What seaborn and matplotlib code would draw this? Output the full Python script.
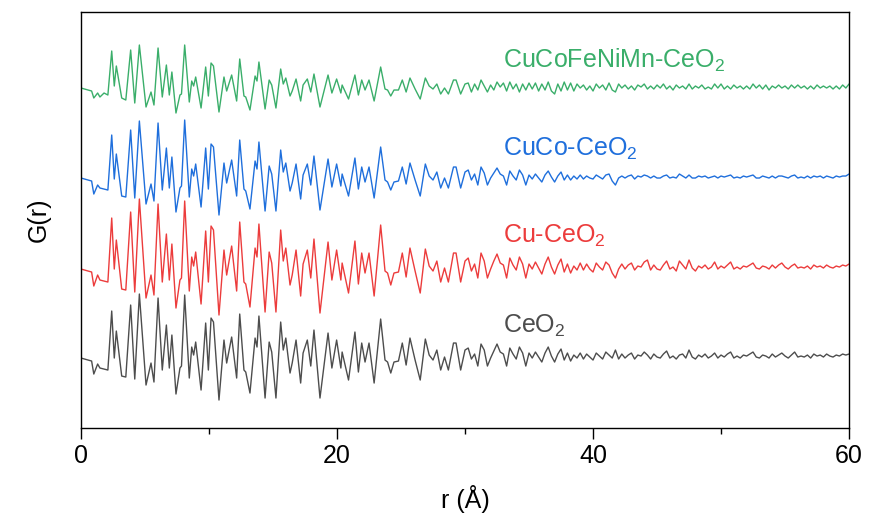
import numpy as np
import pandas as pd
import matplotlib
matplotlib.use("Agg")
import matplotlib.pyplot as plt
import seaborn as sns

# --- data (G in arbitrary units, before stacking offsets) ---
samples = ["CeO2", "Cu-CeO2", "CuCo-CeO2", "CuCoFeNiMn-CeO2"]
labels = ["CeO$_2$", "Cu-CeO$_2$", "CuCo-CeO$_2$", "CuCoFeNiMn-CeO$_2$"]
colors = ["#4d4d4d", "#ec3c3c", "#1f6fdc", "#3aae6a"]
offsets = [0.0, 8.9, 17.9, 26.9]

# peak / valley positions below 30 A (shared by all samples)
r_main = [0.0, 0.83, 1.0, 1.3, 1.48, 1.8, 2.1, 2.4, 2.6, 2.76,
          3.18, 3.5, 3.88, 4.2, 4.56, 5.08, 5.47, 5.7, 6.02, 6.35,
          6.67, 6.9, 7.1, 7.42, 7.73, 7.85, 8.1, 8.46, 8.65, 8.8,
          8.96, 9.38, 9.74, 9.95, 10.16, 10.35, 10.78, 11.17, 11.38, 11.77,
          12.16, 12.4, 12.73, 12.87, 13.2, 13.6, 13.75, 13.9, 14.38, 14.7,
          14.9, 15.23, 15.6, 15.8, 16.0, 16.33, 16.5, 16.8, 17.16, 17.35,
          17.68, 17.95, 18.2, 18.67, 19.3, 19.6, 19.97, 20.3, 20.4, 20.9,
          21.4, 21.67, 21.93, 22.19, 22.5, 22.9, 23.41, 23.75, 23.95, 24.2,
          24.45, 24.8, 25.1, 25.4, 25.7, 26.1, 26.5, 26.9, 27.2, 27.5,
          27.8, 28.1, 28.4, 28.7, 29.1, 29.3, 29.66, 30.0]

g_ceo2 = [-0.2, -0.5, -1.8, -0.8, -1.2, -1.3, -1.4, 4.5, -0.2, 2.5,
          -2.0, -2.1, 5.1, -2.3, 6.2, -2.9, -0.7, -2.6, 5.8, -1.4,
          3.1, -1.2, 2.1, -3.8, -1.2, -1.0, 6.1, -2.2, 0.9, 0.1,
          1.4, -3.4, 3.3, -1.4, 3.8, 3.4, -4.4, 1.6, -0.7, 1.9,
          -2.2, 4.2, -1.4, -1.6, -3.7, 1.8, 0.9, 4.0, -4.2, 1.4,
          0.4, -4.2, 3.4, 0.6, 1.8, -1.7, -0.7, 1.6, -2.7, 0.3,
          1.6, -1.0, 2.6, -4.2, 2.3, -1.2, 1.6, -1.2, 0.4, -2.4,
          2.4, -1.6, 1.3, -0.6, 1.3, -2.7, 3.7, -0.4, -0.6, -1.7,
          -0.6, -0.5, 1.3, -0.9, 1.8, -0.4, -2.4, 1.7, 0.1, -0.4,
          0.6, -1.4, -0.1, -1.4, 1.3, 1.3, -1.4, 0.6]

g_cu = [-0.2, -0.5, -1.9, -0.8, -1.3, -1.4, -1.5, 4.9, -0.2, 2.7,
        -2.2, -2.3, 5.5, -2.5, 6.8, -3.1, -0.8, -2.8, 6.3, -1.5,
        3.3, -1.3, 2.3, -4.1, -1.3, -1.1, 6.6, -2.4, 1.0, 0.1,
        1.5, -3.7, 3.6, -1.5, 4.1, 3.7, -4.8, 1.7, -0.8, 2.1,
        -2.4, 4.5, -1.5, -1.7, -4.0, 1.9, 1.0, 4.3, -4.5, 1.5,
        0.4, -4.5, 3.7, 0.6, 1.9, -1.8, -0.8, 1.7, -2.9, 0.3,
        1.7, -1.1, 2.8, -4.6, 2.5, -1.3, 1.7, -1.3, 0.4, -2.6,
        2.6, -1.7, 1.4, -0.6, 1.4, -2.9, 4.2, -0.4, -0.6, -1.8,
        -0.6, -0.5, 1.4, -1.0, 1.9, -0.4, -2.6, 1.8, 0.1, -0.4,
        0.6, -1.5, -0.1, -1.5, 1.4, 1.4, -1.5, 0.6]

g_cuco = [-0.1, -0.4, -1.7, -0.8, -1.1, -1.2, -1.3, 4.2, -0.2, 2.3,
          -1.9, -2.0, 4.7, -2.1, 5.6, -2.7, -0.7, -2.4, 5.4, -1.3,
          2.9, -1.1, 2.0, -3.5, -1.1, -0.9, 5.7, -2.0, 0.8, 0.1,
          1.3, -3.0, 2.9, -1.2, 3.3, 3.0, -3.8, 1.4, -0.6, 1.7,
          -1.9, 3.7, -1.2, -1.4, -3.2, 1.6, 0.8, 3.5, -3.4, 1.1,
          0.3, -3.4, 2.7, 0.5, 1.4, -1.4, -0.6, 1.3, -2.2, 0.2,
          1.3, -0.8, 2.1, -3.3, 1.8, -1.0, 1.3, -0.9, 0.3, -1.9,
          1.9, -1.2, 1.0, -0.5, 1.0, -2.1, 3.0, -0.3, -0.5, -1.3,
          -0.5, -0.4, 1.0, -0.7, 1.4, -0.3, -1.9, 1.3, 0.1, -0.3,
          0.5, -1.1, -0.1, -1.1, 1.0, 1.0, -1.1, 0.5]

g_hea = [-0.1, -0.4, -1.1, -0.6, -1.0, -0.6, -0.8, 3.6, 0.1, 2.1,
         -1.1, -1.3, 3.7, -1.6, 4.2, -2.0, -0.5, -1.8, 3.9, -1.0,
         2.2, -0.8, 1.5, -2.6, -0.8, -0.7, 4.2, -1.5, 0.6, 0.1,
         1.0, -2.1, 2.0, -0.9, 2.4, 2.1, -2.5, 1.0, -0.4, 1.2,
         -1.4, 2.8, -0.9, -1.0, -2.3, 1.1, 0.6, 2.5, -2.2, 0.7,
         0.2, -2.1, 1.8, 0.3, 0.9, -0.9, -0.4, 0.8, -1.4, 0.2,
         0.8, -0.5, 1.3, -2.0, 1.2, -0.6, 0.8, -0.6, 0.2, -1.2,
         1.2, -0.8, 0.7, -0.3, 0.7, -1.4, 2.0, -0.2, -0.3, -0.9,
         -0.3, -0.3, 0.7, -0.5, 0.9, -0.2, -1.2, 0.9, 0.1, -0.2,
         0.3, -0.7, -0.1, -0.7, 0.7, 0.7, -0.7, 0.3]

# tail 30.25 - 60 A, sampled every 0.25 A
r_tail = np.arange(30.25, 60.01, 0.25)

t_ceo2 = [0.8, -0.3, 0.2, -1.0, 1.2, 0.6, -1.0, -0.2, 0.5, 1.2, 0.4, 0.2,
          -1.0, 0.8, 0.2, -0.3, 0.9, 0.3, -1.0, 0.3, -0.2, 0.4, -0.1, -0.6,
          0.3, 0.9, 0.0, -0.6, 0.2, 0.7, -0.4, 0.3, -0.5, 0.1, -0.2, 0.3,
          -0.3, 0.2, -0.1, -0.4, 0.3, 0.0, -0.3, 0.4, 0.1, -0.2, 0.6, -0.3,
          0.2, -0.2, 0.1, 0.3, -0.3, 0.1, 0.0, 0.4, 0.1, -0.3, 0.2, -0.1,
          -0.2, 0.2, 0.5, -0.2, 0.0, -0.3, 0.1, 0.2, -0.2, 0.6, -0.1, -0.3,
          0.1, -0.1, 0.2, -0.2, 0.0, 0.3, -0.2, 0.1, -0.1, 0.2, 0.4, -0.2,
          0.0, -0.2, 0.1, 0.0, 0.2, 0.4, -0.1, -0.2, 0.1, 0.0, -0.2, 0.2,
          -0.1, 0.1, 0.3, 0.0, -0.2, 0.1, 0.4, -0.1, 0.0, -0.1, 0.1, -0.2,
          0.2, 0.0, 0.1, -0.1, 0.2, 0.0, -0.1, 0.1, 0.0, 0.2, 0.1, 0.2]

t_cu = [0.9, -0.4, 0.3, -1.1, 1.4, 0.6, -1.1, -0.2, 0.6, 1.3, 0.4, 0.2,
        -1.1, 0.9, 0.2, -0.3, 1.0, 0.3, -1.1, 0.3, -0.2, 0.5, -0.1, -0.7,
        0.3, 1.0, 0.0, -0.7, 0.2, 0.8, -0.5, 0.3, -0.6, 0.1, -0.3, 0.4,
        -0.3, 0.3, -0.2, -0.5, 0.4, 0.0, -0.3, 0.5, 0.2, -0.6, -1.1, -0.2,
        0.3, -0.2, 0.2, 0.4, -0.3, 0.1, 0.0, 0.5, 0.7, -0.3, 0.2, -0.2,
        -0.3, 0.2, 0.6, -0.2, 0.0, -0.4, 0.6, 0.2, -0.2, 0.7, -0.1, -0.4,
        0.1, -0.1, 0.2, -0.2, 0.0, 0.5, -0.2, 0.1, -0.1, 0.2, 0.5, -0.2,
        0.0, -0.2, 0.1, 0.0, 0.2, 0.4, -0.1, -0.2, 0.1, 0.0, -0.2, 0.2,
        -0.1, 0.2, 0.4, 0.0, -0.2, 0.1, 0.3, -0.1, 0.0, -0.1, 0.1, -0.2,
        0.2, 0.0, 0.1, -0.1, 0.2, 0.0, -0.1, 0.1, 0.0, 0.2, 0.1, 0.3]

t_cuco = [0.7, -0.3, 0.3, -0.8, 1.0, 0.4, -0.8, -0.1, 0.4, 0.9, 0.3, 0.1,
          -0.8, 0.6, 0.1, -0.3, 0.7, 0.2, -0.8, 0.2, -0.2, 0.3, -0.1, -0.5,
          0.2, 0.6, 0.0, -0.5, 0.1, 0.5, -0.3, 0.2, -0.3, 0.1, -0.2, 0.2,
          -0.2, 0.1, -0.1, -0.2, 0.2, 0.0, -0.2, 0.2, 0.3, -0.4, -0.8, -0.1,
          0.1, -0.1, 0.1, 0.2, -0.2, 0.1, 0.0, 0.2, 0.1, -0.1, 0.1, -0.1,
          -0.1, 0.1, 0.2, -0.1, 0.0, -0.1, 0.3, 0.1, -0.1, 0.2, -0.1, -0.1,
          0.1, 0.0, 0.1, -0.1, 0.0, 0.1, -0.1, 0.1, 0.0, 0.1, 0.2, -0.1,
          0.0, -0.1, 0.1, 0.0, 0.1, 0.2, -0.1, -0.1, 0.1, 0.0, -0.1, 0.1,
          -0.1, 0.1, 0.1, 0.0, -0.1, 0.1, 0.2, -0.1, 0.0, -0.1, 0.1, -0.1,
          0.1, 0.0, 0.1, -0.1, 0.1, 0.0, -0.1, 0.1, 0.0, 0.1, 0.1, 0.3]

t_hea = [0.4, -0.5, 0.3, -0.3, 0.7, 0.1, -0.5, 0.2, -0.3, 0.5, 0.0, 0.4,
         -0.4, 0.5, -0.2, 0.3, -0.5, 0.3, -0.3, 0.4, -0.2, 0.4, -0.4, 0.3,
         -0.3, 0.5, -0.4, -0.7, 0.3, -0.4, 0.5, -0.3, 0.4, -0.4, 0.3, -0.1,
         0.2, -0.3, 0.1, -0.4, 0.3, -0.1, 0.2, -0.3, 0.4, -0.3, -0.5, 0.3,
         -0.1, 0.2, -0.2, 0.1, -0.3, 0.2, 0.0, 0.3, -0.2, 0.1, -0.2, 0.2,
         -0.1, 0.3, -0.2, 0.1, -0.3, 0.2, -0.1, 0.1, -0.2, 0.3, -0.2, 0.1,
         -0.1, 0.2, -0.2, 0.0, -0.2, 0.3, -0.1, 0.3, -0.2, 0.1, -0.2, 0.2,
         -0.1, 0.1, -0.2, 0.1, -0.2, 0.3, -0.1, 0.2, -0.2, 0.2, -0.3, 0.1,
         -0.1, 0.2, -0.1, 0.1, -0.2, 0.2, -0.1, 0.2, -0.1, 0.1, -0.2, 0.1,
         -0.2, 0.2, -0.1, 0.1, -0.1, 0.1, -0.2, 0.1, -0.2, 0.2, -0.1, 0.3]

main_vals = [g_ceo2, g_cu, g_cuco, g_hea]
tail_vals = [t_ceo2, t_cu, t_cuco, t_hea]

# build long table with the stacking offsets applied
frames = []
for name, off, gm, gt in zip(samples, offsets, main_vals, tail_vals):
    r = np.concatenate([r_main, r_tail])
    g = np.concatenate([gm, gt]) + off
    frames.append(pd.DataFrame({"r": r, "G": g, "sample": name}))
df = pd.concat(frames, ignore_index=True)

# --- plot ---
sns.set_style("white")
plt.rcParams["font.family"] = ["Liberation Sans", "DejaVu Sans"]
plt.rcParams["mathtext.default"] = "regular"
plt.rcParams["text.color"] = "black"
plt.rcParams["axes.labelcolor"] = "black"
plt.rcParams["xtick.color"] = "black"

fig = plt.figure(figsize=(8.7, 5.22), dpi=100)
ax = fig.add_axes([0.0931, 0.18, 0.8828, 0.797])

sns.lineplot(data=df, x="r", y="G", hue="sample", hue_order=samples,
             palette=dict(zip(samples, colors)), estimator=None, sort=False,
             linewidth=1.0, legend=False, ax=ax)

for lab, col, ty in zip(labels, colors, [3.0, 12.0, 20.7, 29.6]):
    ax.text(33.0, ty, lab, color=col, fontsize=18, ha="left", va="center")

ax.set_xlim(0, 60)
ax.set_ylim(-7.2, 34.4)
ax.set_xticks([0, 20, 40, 60])
ax.set_xticks([10, 30, 50], minor=True)
ax.set_yticks([])
ax.tick_params(axis="x", which="major", direction="out", length=8, width=1,
               labelsize=18, bottom=True, colors="black")
ax.tick_params(axis="x", which="minor", direction="out", length=4, width=1,
               bottom=True, colors="black")
for s in ax.spines.values():
    s.set_color("black")
    s.set_linewidth(1.0)
ax.set_xlabel("r (Å)", fontsize=18, labelpad=12)
ax.set_ylabel("G(r)", fontsize=18, labelpad=22)

fig.savefig("out.png", dpi=100)
